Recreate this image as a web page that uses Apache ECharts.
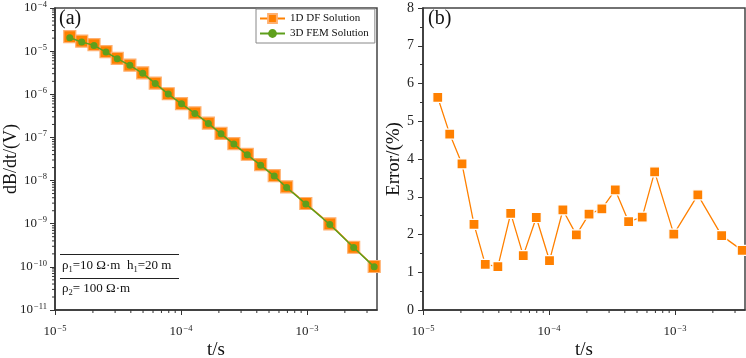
<!DOCTYPE html>
<html>
<head>
<meta charset="utf-8">
<script src="https://cdn.jsdelivr.net/npm/echarts@6.0.0/dist/echarts.min.js"></script>
<style>
  html, body { margin: 0; padding: 0; background: #fff; }
  #chart { width: 746px; height: 358px; }
</style>
</head>
<body>
<div id="chart"></div>
<script>
// time gates (s)
const times = [1.31e-5, 1.63e-5, 2.04e-5, 2.54e-5, 3.12e-5, 3.93e-5, 4.97e-5, 6.25e-5, 7.93e-5, 1.01e-4,
  1.29e-4, 1.65e-4, 2.08e-4, 2.63e-4, 3.36e-4, 4.29e-4, 5.5e-4, 6.9e-4, 9.8e-4, 1.52e-3, 2.35e-3, 3.42e-3];
// dB/dt, 1D digital filter solution
const dfValues = [2.17e-5, 1.71e-5, 1.41e-5, 9.7e-6, 6.8e-6, 4.75e-6, 3.14e-6, 1.82e-6, 1.03e-6, 6.1e-7,
  3.7e-7, 2.15e-7, 1.24e-7, 7.2e-8, 4.07e-8, 2.33e-8, 1.3e-8, 7.15e-9, 2.94e-9, 9.9e-10, 2.85e-10, 1.02e-10];
// dB/dt, 3D FEM solution
const femValues = [2.05e-5, 1.63e-5, 1.36e-5, 9.5e-6, 6.7e-6, 4.7e-6, 3.06e-6, 1.79e-6, 1.01e-6, 6.0e-7,
  3.6e-7, 2.11e-7, 1.21e-7, 7.0e-8, 3.95e-8, 2.28e-8, 1.27e-8, 6.9e-9, 2.88e-9, 9.6e-10, 2.8e-10, 1.0e-10];
// relative error (%)
const errValues = [5.63, 4.66, 3.87, 2.27, 1.21, 1.15, 2.56, 1.44, 2.45, 1.31, 2.65,
  1.99, 2.54, 2.68, 3.18, 2.34, 2.46, 3.66, 2.01, 3.05, 1.97, 1.58];

// minor tick positions of the log axes
const xMinorTicks = [2e-5, 3e-5, 4e-5, 5e-5, 6e-5, 7e-5, 8e-5, 9e-5,
  2e-4, 3e-4, 4e-4, 5e-4, 6e-4, 7e-4, 8e-4, 9e-4, 2e-3, 3e-3];
const yMinorTicks = [];
[-11, -10, -9, -8, -7, -6, -5].forEach(e => {
  [2, 3, 4, 5, 6, 7, 8, 9].forEach(k => yMinorTicks.push(k * Math.pow(10, e)));
});

const FONT = "'Liberation Serif', 'Times New Roman', serif";
const ORANGE = '#FF8000';
const GREEN = '#5E9F1C';
const AXIS = '#333';

const X_MIN = 1e-5, X_MAX = 3.6e-3;
const Y_MIN = 1e-11, Y_MAX = 1e-4;

const powLabel = (v) => {
    const lg = Math.log10(v);
    const e = Math.round(lg);
    if (Math.abs(lg - e) > 1e-6) return '';
    return '{b|10}{e|' + String(e).replace('-', '\u2212') + '}';
};
const powRich = {
    b: { fontFamily: FONT, fontSize: 13, color: '#222', lineHeight: 16 },
    e: { fontFamily: FONT, fontSize: 8.5, color: '#222', verticalAlign: 'top', lineHeight: 16, padding: [0, 0, 0, 1] }
};

const logXAxis = (gridIndex) => ({
    type: 'log',
    gridIndex: gridIndex,
    min: X_MIN,
    max: X_MAX,
    name: 't/s',
    nameLocation: 'middle',
    nameGap: 31,
    nameMoveOverlap: false,
    nameTextStyle: { fontFamily: FONT, fontSize: 19, color: '#111' },
    axisLine: { lineStyle: { color: AXIS, width: 1.5 } },
    axisTick: { show: true, inside: false, length: 5, lineStyle: { color: AXIS, width: 1 } },
    axisLabel: { formatter: powLabel, rich: powRich, margin: 14, showMaxLabel: false },
    splitLine: { show: false }
});

// small custom series that draws the 2..9 minor ticks through the axes
const minorTickSeries = (xi, yi, vals, dir) => ({
    type: 'custom',
    xAxisIndex: xi,
    yAxisIndex: yi,
    silent: true,
    clip: false,
    z: 5,
    data: vals,
    renderItem: (params, api) => {
        const p = api.coord([api.value(0), api.value(1)]);
        const shape = dir === 'x'
            ? { x1: p[0], y1: p[1], x2: p[0], y2: p[1] + 3 }
            : { x1: p[0], y1: p[1], x2: p[0] - 3, y2: p[1] };
        return { type: 'line', shape: shape, style: { stroke: AXIS, lineWidth: 1 } };
    }
});

const chart = echarts.init(document.getElementById('chart'));

const option = {
    backgroundColor: '#fff',
    animation: false,
    grid: [
        { left: 55, top: 8, width: 322, height: 302, outerBoundsMode: 'none', containLabel: false,
          show: true, borderColor: '#444', borderWidth: 1.5, backgroundColor: 'transparent' },
        { left: 423, top: 8, width: 322, height: 302, outerBoundsMode: 'none', containLabel: false,
          show: true, borderColor: '#444', borderWidth: 1.5, backgroundColor: 'transparent' }
    ],
    xAxis: [logXAxis(0), logXAxis(1)],
    yAxis: [
        {
            type: 'log',
            gridIndex: 0,
            min: Y_MIN,
            max: Y_MAX,
            name: 'dB/dt/(V)',
            nameLocation: 'middle',
            nameGap: 35,
            nameMoveOverlap: false,
            nameRotate: 90,
            nameTextStyle: { fontFamily: FONT, fontSize: 18, color: '#111' },
            axisLine: { lineStyle: { color: AXIS, width: 1.5 } },
            axisTick: { show: true, inside: false, length: 5, lineStyle: { color: AXIS, width: 1 } },
            axisLabel: { formatter: powLabel, rich: powRich, margin: 8 },
            splitLine: { show: false }
        },
        {
            type: 'value',
            gridIndex: 1,
            min: 0,
            max: 8,
            interval: 1,
            name: 'Error/(%)',
            nameLocation: 'middle',
            nameGap: 19,
            nameMoveOverlap: false,
            nameRotate: 90,
            nameTextStyle: { fontFamily: FONT, fontSize: 19, color: '#111' },
            axisLine: { lineStyle: { color: AXIS, width: 1.5 } },
            axisTick: { show: true, inside: false, length: 5, lineStyle: { color: AXIS, width: 1 } },
            minorTick: { show: true, splitNumber: 2, length: 3, lineStyle: { color: AXIS, width: 1 } },
            axisLabel: { fontFamily: FONT, fontSize: 14, color: '#222', margin: 9 },
            splitLine: { show: false }
        }
    ],
    legend: {
        orient: 'vertical',
        left: 256,
        top: 9,
        padding: [4, 6, 4, 3],
        itemGap: 4,
        itemWidth: 25,
        itemHeight: 11,
        borderColor: '#888',
        borderWidth: 1,
        backgroundColor: '#fff',
        textStyle: { fontFamily: FONT, fontSize: 11, color: '#111' },
        data: ['1D DF Solution', '3D FEM Solution']
    },
    graphic: [
        { type: 'text', left: 59, top: 9, style: { text: '(a)', font: '20px ' + FONT, fill: '#111' } },
        { type: 'text', left: 428, top: 9, style: { text: '(b)', font: '20px ' + FONT, fill: '#111' } },
        { type: 'line', shape: { x1: 60, y1: 254.5, x2: 179, y2: 254.5 }, style: { stroke: '#222', lineWidth: 1 } },
        { type: 'line', shape: { x1: 60, y1: 278.5, x2: 179, y2: 278.5 }, style: { stroke: '#222', lineWidth: 1 } },
        {
            type: 'text', left: 62, top: 259,
            style: {
                text: '\u03c1{s|1}=10 \u03a9\u00b7m  h{s|1}=20 m',
                font: '13px ' + FONT, fill: '#111',
                rich: { s: { fontSize: 8.5, fontFamily: FONT, verticalAlign: 'bottom', lineHeight: 18, fill: '#111' } }
            }
        },
        {
            type: 'text', left: 62, top: 282,
            style: {
                text: '\u03c1{s|2}= 100 \u03a9\u00b7m',
                font: '13px ' + FONT, fill: '#111',
                rich: { s: { fontSize: 8.5, fontFamily: FONT, verticalAlign: 'bottom', lineHeight: 18, fill: '#111' } }
            }
        }
    ],
    series: [
        {
            name: '1D DF Solution',
            type: 'line',
            xAxisIndex: 0,
            yAxisIndex: 0,
            data: times.map((t, i) => [t, dfValues[i]]),
            symbol: 'rect',
            symbolSize: 12,
            itemStyle: { color: ORANGE, borderColor: '#FFB070', borderWidth: 1.2 },
            lineStyle: { color: ORANGE, width: 1.5 },
            z: 2
        },
        {
            name: '3D FEM Solution',
            type: 'line',
            xAxisIndex: 0,
            yAxisIndex: 0,
            data: times.map((t, i) => [t, femValues[i]]),
            symbol: 'circle',
            symbolSize: 7,
            itemStyle: { color: GREEN, borderWidth: 0 },
            lineStyle: { color: GREEN, width: 1.5 },
            z: 3
        },
        {
            name: 'Error',
            type: 'line',
            xAxisIndex: 1,
            yAxisIndex: 1,
            data: times.map((t, i) => [t, errValues[i]]),
            symbol: 'rect',
            symbolSize: 10,
            itemStyle: { color: ORANGE, borderColor: '#fff', borderWidth: 1.2 },
            lineStyle: { color: ORANGE, width: 1.3 },
            z: 3
        },
        minorTickSeries(0, 0, xMinorTicks.map(v => [v, Y_MIN]), 'x'),
        minorTickSeries(0, 0, yMinorTicks.map(v => [X_MIN, v]), 'y'),
        minorTickSeries(1, 1, xMinorTicks.map(v => [v, 0]), 'x')
    ]
};

chart.setOption(option);
</script>
</body>
</html>
